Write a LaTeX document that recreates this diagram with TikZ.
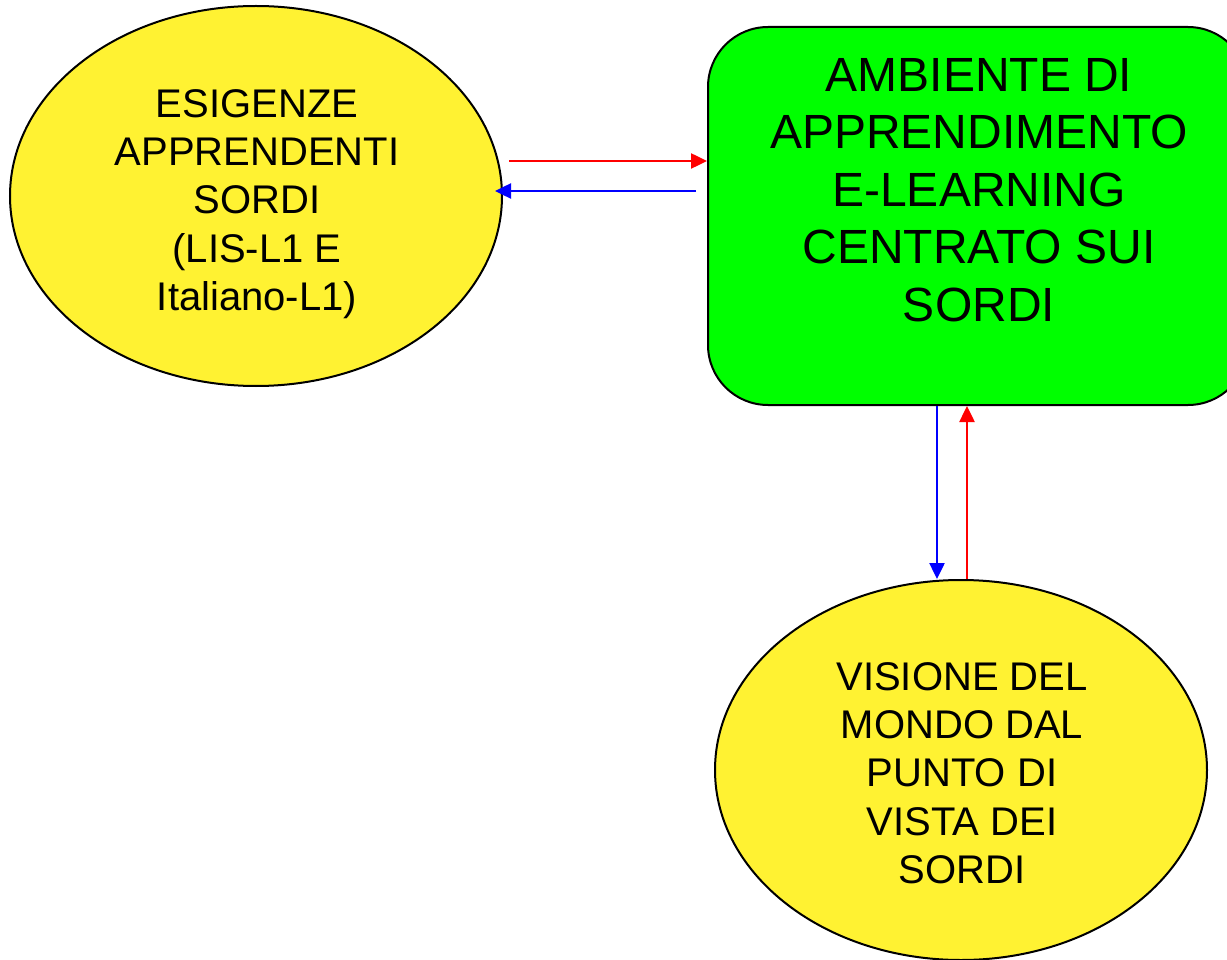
\documentclass[tikz,border=0pt]{standalone}
\usepackage{fontspec}
\setmainfont{Liberation Sans}
\usetikzlibrary{arrows.meta,shapes.geometric}
\definecolor{ylw}{RGB}{255,242,50}
\definecolor{grn}{RGB}{0,255,0}
\tikzset{
  bubble/.style={ellipse, draw=black, line width=2pt, fill=ylw, inner sep=0pt,
    minimum width=492pt, minimum height=380pt},
  smalltext/.style={align=center, font=\fontsize{40}{48.3}\selectfont, inner sep=0pt},
  greenbox/.style={rectangle, rounded corners=60pt, draw=black, line width=2pt, fill=grn,
    minimum width=540pt, minimum height=378pt, inner sep=0pt},
  bigtext/.style={align=center, font=\fontsize{48}{57.5}\selectfont, inner sep=0pt},
  conn/.style={line width=2.5pt, -{Triangle[length=16pt,width=15pt]}},
}
\begin{document}
\begin{tikzpicture}[x=1pt,y=-1pt]
\useasboundingbox (0,0) rectangle (1227,960);
\node[bubble] (esig) at (256,196) {};
\node[smalltext] (esigtxt) at (257,204) {ESIGENZE\\APPRENDENTI\\SORDI\\(LIS-L1 E\\Italiano-L1)};
\node[greenbox] (amb) at (978,216) {};
\node[bigtext] (ambtxt) at (979,190) {AMBIENTE DI\\APPRENDIMENTO\\E-LEARNING\\CENTRATO SUI\\SORDI};
\node[bubble] (vis) at (961,770) {};
\node[smalltext] (vistxt) at (962,773) {VISIONE DEL\\MONDO DAL\\PUNTO DI\\VISTA DEI\\SORDI};
\draw[conn, red] ([xshift=6pt]esig.east |- 0,161) -- (amb.west |- 0,161);
\draw[conn, blue] ([xshift=-11pt]amb.west |- 0,191) -- ([xshift=-8pt]esig.east |- 0,191);
\draw[conn, blue] (937,0 |- amb.south) -- (937,0 |- vis.north);
\draw[conn, red] (967,0 |- vis.north) -- (967,0 |- amb.south);
\end{tikzpicture}
\end{document}
